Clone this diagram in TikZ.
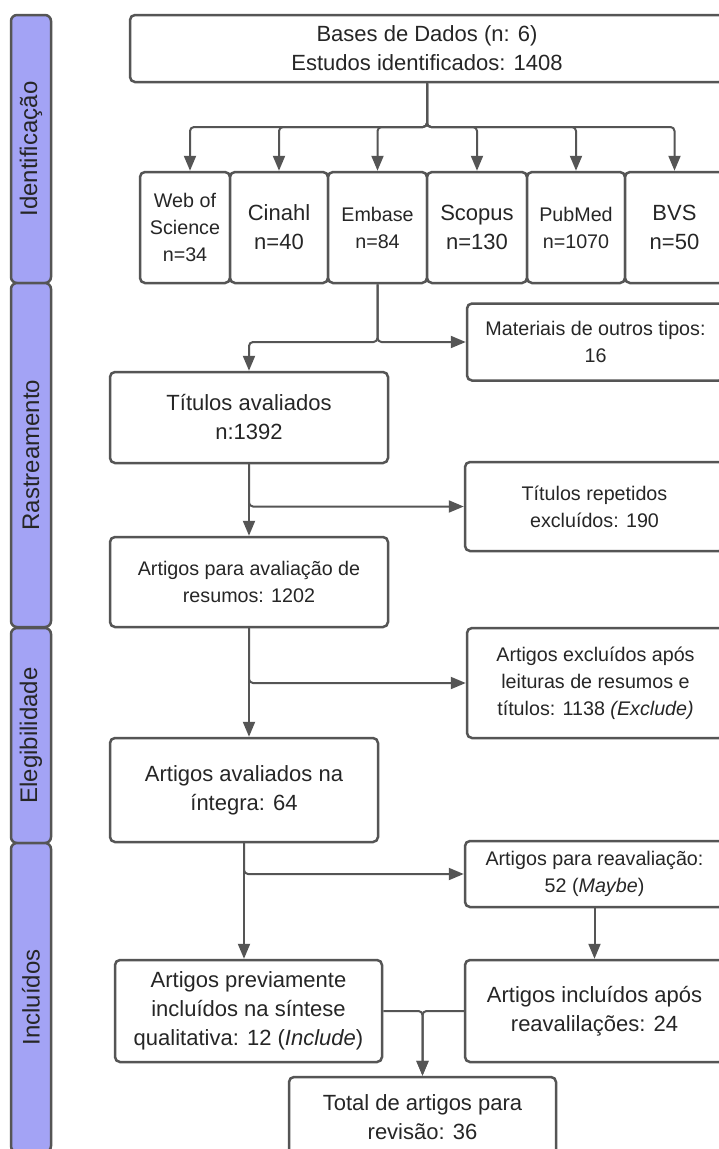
\documentclass[tikz,border=0pt]{standalone}
\usepackage{fontspec}
\setmainfont{Liberation Sans}
\usetikzlibrary{arrows.meta,positioning}

\definecolor{lanefill}{HTML}{A3A3F5}
\definecolor{edgegray}{HTML}{555555}
\definecolor{inkgray}{HTML}{262626}

\newcommand{\bigtxt}{\fontsize{22}{29}\selectfont}
\newcommand{\smalltxt}{\fontsize{19.7}{27}\selectfont}

\begin{document}
\begin{tikzpicture}[
  x=1pt, y=-1pt,
  box/.style={draw=edgegray, line width=2.5pt, fill=white, rounded corners=5pt,
              align=center, text=inkgray, inner sep=2pt, font=\bigtxt},
  sbox/.style={box, font=\smalltxt},
  db/.style={box, minimum height=111pt},
  sdb/.style={db, font=\smalltxt},
  lane/.style={draw=edgegray, line width=2.5pt, fill=lanefill, rounded corners=6pt,
               rotate=90, minimum height=40pt, text=inkgray,
               font=\fontsize{24}{28}\selectfont},
  arr/.style={-{Triangle[length=15pt,width=12pt]}, line width=2pt, draw=edgegray,
              rounded corners=4pt},
]
\path[use as bounding box, fill=white] (0,0) rectangle (718,1149);

% ---- phase lanes (left side) ----
\node[lane, minimum width=268pt] (lid)  at (31,149)   {Identificação};
\node[lane, minimum width=344pt] (lras) at (31,455)   {Rastreamento};
\node[lane, minimum width=215pt] (leg)  at (31,735.5) {Elegibilidade};
\node[lane, minimum width=309pt] (linc) at (31,997.5) {Incluídos};

% ---- identification ----
\node[box, minimum width=594pt, minimum height=67pt] (top) at (427,48.5)
  {Bases de Dados (n: 6)\\Estudos identificados: 1408};

\node[sdb, minimum width=90pt] (wos) at (185,227.5) {Web of\\Science\\n=34};
\node[db,  minimum width=98pt,  right=-2.5pt of wos] (cin) {Cinahl\\n=40};
\node[sdb, minimum width=99pt,  right=-2.5pt of cin] (emb) {Embase\\n=84};
\node[db,  minimum width=100pt, right=-2.5pt of emb] (sco) {Scopus\\n=130};
\node[sdb, minimum width=98pt,  right=-2.5pt of sco] (pub) {PubMed\\n=1070};
\node[db,  minimum width=99pt,  right=-2.5pt of pub] (bvs) {BVS\\n=50};

\coordinate (split) at (427,127);
\draw[arr] (top.south) -- (split) -| ([xshift=5pt]wos.north);
\foreach \n in {cin,emb,sco,pub,bvs}
  \draw[arr] (top.south) -- (split) -| (\n.north);

% ---- screening ----
\node[sbox, minimum width=257pt, minimum height=77pt] (mat) at (595.5,342)
  {Materiais de outros tipos:\\16};
\node[box, minimum width=278pt, minimum height=91pt] (tit) at (249,417.5)
  {Títulos avaliados\\n:1392};
\node[sbox, minimum width=259pt, minimum height=89pt] (rep) at (594.5,506.5)
  {Títulos repetidos\\excluídos: 190};
\node[sbox, minimum width=278pt, minimum height=90pt] (res) at (249,582)
  {Artigos para avaliação de\\resumos: 1202};

\draw[arr] (emb.south) |- (mat.west);
\draw[arr] (emb.south) -- (emb.south |- mat.west) -| (tit.north);
\draw[arr] (tit.south) -- (res.north);
\draw[arr] (tit.south) |- (rep.west);

% ---- eligibility ----
\node[sbox, minimum width=257pt, minimum height=110pt] (exc) at (595.5,683)
  {Artigos excluídos após\\leituras de resumos e\\títulos: 1138 \textit{(Exclude)}};
\node[box, minimum width=268pt, minimum height=104pt] (int) at (244,790)
  {Artigos avaliados na\\íntegra: 64};

\draw[arr] (res.south) -- (res.south |- int.north);
\draw[arr] (res.south) |- (exc.west);

% ---- included ----
\node[sbox, minimum width=259pt, minimum height=66pt] (rea) at (594.5,874)
  {Artigos para reavaliação:\\52 (\textit{Maybe})};
\node[box, minimum width=267pt, minimum height=102pt] (pre) at (248.5,1011)
  {Artigos previamente\\incluídos na síntese\\qualitativa: 12 (\textit{Include})};
\node[box, minimum width=259pt, minimum height=102pt] (inc) at (594.5,1011)
  {Artigos incluídos após\\reavalilações: 24};
\node[box, minimum width=267pt, minimum height=80pt] (tot) at (422.5,1117)
  {Total de artigos para\\revisão: 36};

\draw[arr] (int.south) -- (int.south |- pre.north);
\draw[arr] (int.south) |- (rea.west);
\draw[arr] (rea.south) -- (inc.north);
\draw[arr] (pre.east) -| (tot.north);
\draw[arr] (inc.west) -| (tot.north);

\end{tikzpicture}
\end{document}
